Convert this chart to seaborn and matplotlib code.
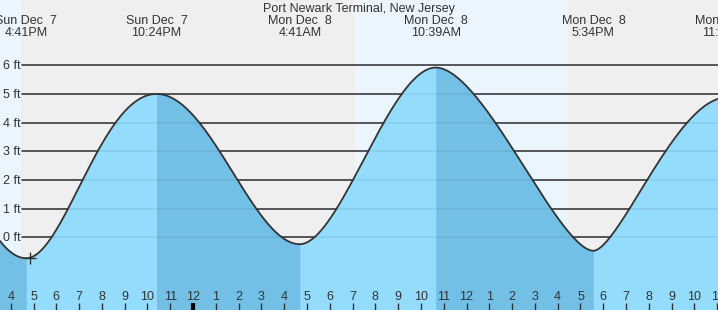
import numpy as np
import pandas as pd
import matplotlib
matplotlib.use("Agg")
import matplotlib.pyplot as plt
import matplotlib.transforms as mtrans
import seaborn as sns

# ---------------- data (hours since Sun Dec 7 00:00) ----------------
# tide highs / lows (also the top labels)
ext_t = [16.683, 22.40, 28.683, 34.65, 41.567, 47.42]
ext_h = [-0.73, 5.0, -0.24, 5.92, -0.47, 4.88]
ext_day = ["Sun Dec  7", "Sun Dec  7", "Mon Dec  8", "Mon Dec  8", "Mon Dec  8", "Mon Dec  8"]
ext_time = ["4:41PM", "10:24PM", "4:41AM", "10:39AM", "5:34PM", "11:25PM"]

# water level read between the extremes
curve_t = [15.53, 17.82, 18.53, 19.12, 19.77, 20.66,
           24.31, 25.18, 25.93, 26.68, 28.03,
           29.28, 30.37, 31.02, 31.63, 32.34, 33.21,
           36.24, 37.29, 38.13, 38.92, 39.71, 40.63,
           42.30, 43.17, 43.92, 44.70, 45.81, 47.03]
curve_h = [-0.13, 0.0, 1.0, 2.0, 3.0, 4.0,
           4.0, 3.0, 2.0, 1.0, 0.0,
           0.0, 1.0, 2.0, 3.0, 4.0, 5.0,
           5.0, 4.0, 3.0, 2.0, 1.0, 0.0,
           0.0, 1.0, 2.0, 3.0, 4.1, 4.82]

day_spans = [(15.0, 16.46), (31.10, 40.45)]   # daylight periods
now_t, now_h = 16.85, -0.73

y_ticks = [0, 1, 2, 3, 4, 5, 6]
y_labels = ["0 ft", "1 ft", "2 ft", "3 ft", "4 ft", "5 ft", "6 ft"]
hour_ticks = list(range(16, 48))
hour_labels = [str(h % 12 if h % 12 else 12) for h in hour_ticks]

title = "Port Newark Terminal, New Jersey"


# ---------------- smooth curve through the read points ----------------
def build_curve():
    ct = np.asarray(curve_t); ch = np.asarray(curve_h)
    T, Hh = [], []
    # part before the first low: cosine trough through the edge reading
    ta, ha = ext_t[0], ext_h[0]
    pre = ct < ta
    te, he = ct[pre][0], ch[pre][0]
    half = 6.2
    A = (he - ha) / ((1 - np.cos(np.pi * (ta - te) / half)) / 2)
    tp = np.linspace(te - 0.3, ta, 80)
    T.append(tp); Hh.append(ha + A * (1 - np.cos(np.pi * (ta - tp) / half)) / 2)
    # each half cycle: time = smooth (least squares) function of cosine phase
    for k in range(len(ext_t) - 1):
        ta, tb = ext_t[k], ext_t[k + 1]
        ha, hb = ext_h[k], ext_h[k + 1]
        sel = (ct > ta) & (ct < tb)
        frac = np.clip((ch[sel] - ha) / (hb - ha), 0, 1)
        phi = np.arccos(1 - 2 * frac) / np.pi
        s = (ct[sel] - ta) / (tb - ta)
        base = phi * (1 - phi)
        M = np.vstack([base, base * phi]).T
        coef, *_ = np.linalg.lstsq(M, s - phi, rcond=None)
        pg = np.linspace(0, 1, 400)
        sg = pg + pg * (1 - pg) * (coef[0] + coef[1] * pg)
        T.append(ta + sg * (tb - ta))
        Hh.append(ha + (hb - ha) * (1 - np.cos(np.pi * pg)) / 2)
    return np.concatenate(T), np.concatenate(Hh)


# ---------------- figure ----------------
sns.set_theme(style="white")
plt.rcParams["font.family"] = ["Liberation Sans", "DejaVu Sans"]

W, H = 718, 310
fig = plt.figure(figsize=(W / 100, H / 100), dpi=100)
ax = fig.add_axes([0, 0, 1, 1])
x0, x1 = 15.53, 15.53 + W / 22.79
px_ft = 28.67
zero_y = 237.3
ax.axis("off")

night_c = "#efefef"
day_c = "#eaf5fd"
light_w = "#94dcfc"
dark_w = "#72c0e5"
ink = "#333333"

ax.axvspan(x0, x1, color=night_c, zorder=0, lw=0)
for a, b in day_spans:
    ax.axvspan(a, b, color=day_c, zorder=0.5, lw=0)

for yv in y_ticks:
    ax.axhline(yv, xmin=21.7 / W, xmax=1, color=ink, lw=1.1, zorder=1)

tt, hh = build_curve()
df = pd.DataFrame({"t": tt, "h": hh})
bottom = -(H - zero_y) / px_ft - 1

# water fill: falling (high->low) dark, rising light; each piece overlaps the next
bounds = [tt[0]] + ext_t
for k in range(len(bounds) - 1):
    a, b = bounds[k], bounds[k + 1]
    mask = (tt >= a) & (tt <= b + 0.12)
    falling = ext_h[k] < 2.5
    ax.fill_between(tt[mask], bottom, hh[mask], color=dark_w if falling else light_w,
                    lw=0, zorder=2 + 0.01 * k)

for yv in y_ticks:
    ax.axhline(yv, xmin=21.7 / W, xmax=1, color="#000000", alpha=0.07, lw=1.1, zorder=3)

sns.lineplot(data=df, x="t", y="h", ax=ax, color=ink, lw=1.3, zorder=4, sort=False,
             estimator=None)
ax.plot([now_t], [now_h], marker="+", ms=8, mew=1.0, color=ink, zorder=5)
ax.set_xlim(x0, x1)
ax.set_ylim(-(H - zero_y) / px_ft, zero_y / px_ft)
ax.axis("off")


def fy(py):
    return 1 - py / H


# y labels
blend_y = mtrans.blended_transform_factory(ax.transAxes, ax.transData)
for yv, lab in zip(y_ticks, y_labels):
    ax.text(3 / W, yv - 4.0 / px_ft, lab, transform=blend_y, ha="left", va="baseline",
            fontsize=9, color=ink, zorder=6)

# hour ticks & labels
blend_x = mtrans.blended_transform_factory(ax.transData, ax.transAxes)
for t, lab in zip(hour_ticks, hour_labels):
    mid = (t % 24 == 0)
    ax.plot([t, t], [0, 7.5 / H], transform=blend_x, color="#000000" if mid else ink,
            lw=3 if mid else 1, zorder=6, solid_capstyle="butt")
    ax.text(t, fy(300), lab, transform=blend_x, ha="center", va="baseline",
            fontsize=9, color=ink, zorder=6)

# extreme labels at top
for t, d, tm in zip(ext_t, ext_day, ext_time):
    ax.text(t, fy(24), d, transform=blend_x, ha="center", va="baseline",
            fontsize=9, color=ink, zorder=6, clip_on=False)
    ax.text(t, fy(36), tm, transform=blend_x, ha="center", va="baseline",
            fontsize=9, color=ink, zorder=6, clip_on=False)

fig.text(0.5, fy(12), title, ha="center", va="baseline", fontsize=9, color=ink)

fig.savefig("out.png", dpi=100)
